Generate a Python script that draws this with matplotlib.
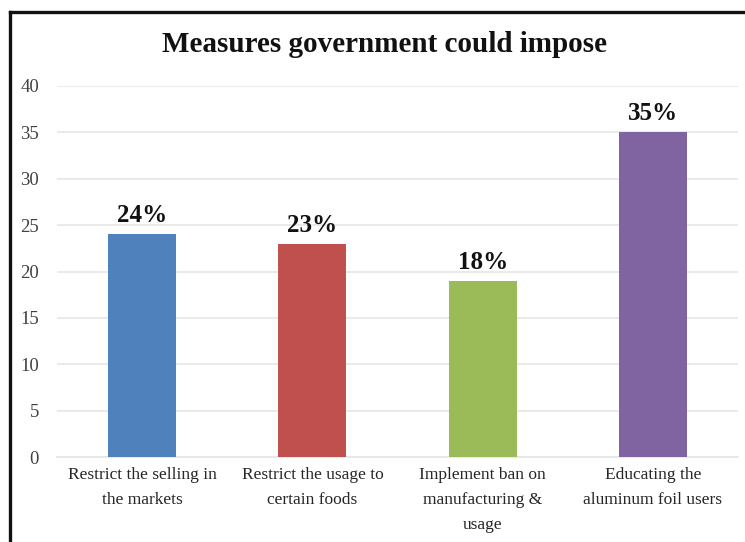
import matplotlib
matplotlib.use("Agg")
import matplotlib.pyplot as plt
from matplotlib.lines import Line2D

categories = ["Restrict the selling in\nthe markets",
              "Restrict the usage to\ncertain foods",
              "Implement ban on\nmanufacturing &\nusage",
              "Educating the\naluminum foil users"]
values = [24, 23, 19, 35]
value_labels = ["24%", "23%", "18%", "35%"]
colors = ["#4F81BD", "#C0504D", "#9BBB59", "#8064A2"]
yticks = [0, 5, 10, 15, 20, 25, 30, 35, 40]
title = "Measures government could impose"

plt.rcParams['font.family'] = ['Liberation Serif', 'DejaVu Serif']

W, H = 745, 542
fig = plt.figure(figsize=(W / 100, H / 100), dpi=100)
ax = fig.add_axes([57 / W, 1 - 457 / H, (738 - 57) / W, (457 - 86) / H])

x = list(range(len(categories)))
bars = ax.bar(x, values, width=0.4, color=colors, zorder=3)
for xi, v, lab in zip(x, values, value_labels):
    ax.annotate(lab, (xi, v), xytext=(0, 5), textcoords="offset points",
                ha="center", va="bottom", fontsize=18, fontweight="bold",
                color="#111111", zorder=4)

ax.set_xlim(-0.5, len(categories) - 0.5)
ax.set_ylim(0, 40)
ax.set_yticks(yticks)
ax.set_yticklabels([str(t) for t in yticks], fontsize=13.5, color="#404040")
ax.set_xticks(x)
ax.set_xticklabels(categories, fontsize=12.5, color="#262626", linespacing=1.75)
ax.tick_params(axis="both", length=0)
ax.tick_params(axis="y", pad=13)
ax.tick_params(axis="x", pad=7)
ax.yaxis.grid(True, color="#e6e6e6", linewidth=1.2, zorder=0)
for s in ["top", "right", "left"]:
    ax.spines[s].set_visible(False)
ax.spines["bottom"].set_color("#e6e6e6")
ax.spines["bottom"].set_linewidth(1.2)

fig.text(385 / W, 1 - 45 / H, title, ha="center", va="center",
         fontsize=21, fontweight="bold", color="#111111")

# outer frame (left and top edges)
fig.add_artist(Line2D([9.5 / W, 9.5 / W], [0, 1 - 12 / H], transform=fig.transFigure,
                      color="#111111", linewidth=2.4))
fig.add_artist(Line2D([9.5 / W, 1], [1 - 12 / H, 1 - 12 / H], transform=fig.transFigure,
                      color="#111111", linewidth=2.4))

fig.savefig("out.png", dpi=100)
